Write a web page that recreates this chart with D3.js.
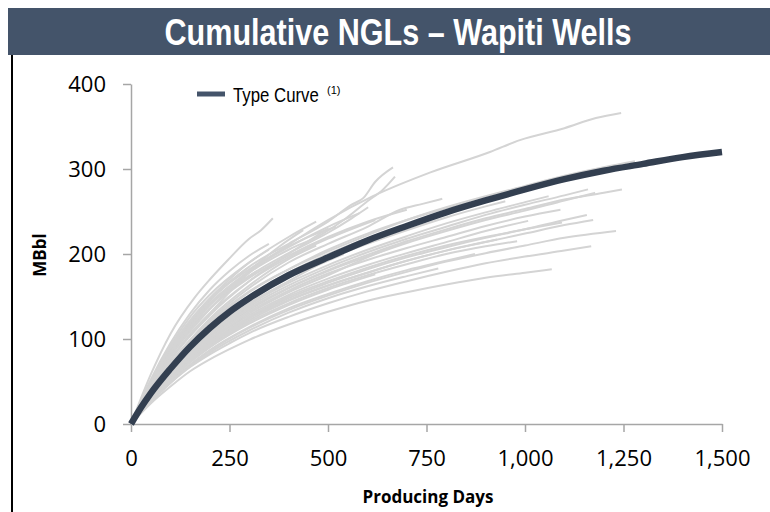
<!DOCTYPE html>
<html>
<head>
<meta charset="utf-8">
<script src="https://cdn.jsdelivr.net/npm/d3@7"></script>
<style>
  body { margin: 0; background: #fff; }
</style>
</head>
<body>
<div id="chart"></div>
<script>
// Chart data
const titleText = 'Cumulative NGLs \u2013 Wapiti Wells';
const yTicks = [0, 100, 200, 300, 400];
const xTicks = [0, 250, 500, 750, 1000, 1250, 1500];

// Type curve: [producing days, MBbl]
const typeCurve = [
  [0, 0], [25, 19], [50, 36], [100, 65], [150, 91], [200, 113], [250, 132], [300, 148],
  [400, 175], [500, 196], [600, 216], [700, 233], [800, 249], [900, 263], [1000, 276],
  [1100, 288], [1200, 298], [1300, 306], [1400, 314], [1500, 320]
];

// Individual wells: [producing days, MBbl]
const wells = [
  [[0, 0], [50, 58], [100, 106], [162, 149], [200, 170], [246, 193], [300, 218], [330, 228], [360, 242]],
  [[0, 0], [50, 48], [100, 86], [150, 118], [200, 145], [300, 185], [400, 212], [500, 238], [560, 258], [590, 266], [620, 285], [665, 302]],
  [[0, 0], [50, 46], [100, 82], [150, 112], [200, 140], [300, 178], [400, 205], [480, 222], [540, 240], [600, 262], [640, 276], [670, 291]],
  [[0, 0], [50, 45], [100, 80], [150, 110], [200, 136], [300, 174], [400, 201], [500, 225], [560, 242], [602, 255]],
  [[0, 0], [50, 42], [100, 76], [200, 130], [300, 178], [404, 212], [500, 240], [614, 268], [760, 296], [911, 320], [987, 334], [1100, 348], [1180, 360], [1244, 366]],
  [[0, 0], [100, 72], [200, 122], [300, 160], [400, 190], [500, 212], [600, 232], [683, 252], [740, 259], [790, 265]],
  [[0, 0], [100, 68], [200, 118], [300, 155], [400, 182], [500, 203], [600, 222], [700, 240], [800, 255], [900, 268], [1000, 280], [1100, 292], [1200, 302], [1279, 309]],
  [[0, 0], [100, 70], [200, 120], [300, 156], [400, 182], [500, 205], [600, 224], [700, 240], [800, 254], [860, 262]],
  [[0, 0], [100, 60], [200, 105], [300, 138], [400, 163], [500, 184], [600, 202], [700, 218], [800, 232], [900, 246], [1000, 258], [1100, 269], [1160, 276]],
  [[0, 0], [100, 58], [200, 102], [300, 134], [400, 160], [500, 181], [600, 199], [700, 215], [800, 229], [900, 242], [1000, 253], [1100, 264], [1200, 272], [1246, 276]],
  [[0, 0], [100, 59], [200, 103], [300, 136], [400, 160], [500, 180], [600, 197], [700, 213], [800, 227], [900, 240], [1000, 251], [1100, 263], [1178, 272]],
  [[0, 0], [100, 56], [200, 98], [300, 128], [400, 152], [500, 171], [600, 187], [700, 201], [800, 214], [900, 227], [1008, 239]],
  [[0, 0], [100, 55], [200, 95], [300, 125], [400, 148], [500, 166], [600, 182], [700, 196], [800, 208], [900, 219], [1000, 229], [1100, 240], [1157, 246]],
  [[0, 0], [100, 54], [200, 93], [300, 122], [400, 145], [500, 163], [600, 178], [700, 192], [800, 204], [900, 214], [1000, 224], [1100, 234], [1173, 240]],
  [[0, 0], [100, 56], [200, 96], [300, 126], [400, 150], [500, 168], [600, 184], [700, 198], [800, 210], [900, 220], [1000, 229], [1094, 237]],
  [[0, 0], [100, 55], [200, 94], [300, 124], [400, 146], [500, 163], [600, 178], [700, 192], [800, 204], [929, 217]],
  [[0, 0], [100, 50], [200, 86], [300, 113], [400, 134], [500, 151], [600, 166], [700, 179], [800, 191], [900, 201], [1000, 210], [1100, 219], [1231, 227]],
  [[0, 0], [50, 26], [100, 48], [150, 67], [200, 82], [250, 95], [300, 107], [400, 126], [500, 142], [600, 156], [700, 168], [800, 179], [900, 189], [1000, 197], [1100, 204], [1168, 209]],
  [[0, 0], [50, 24], [100, 44], [150, 62], [200, 76], [250, 88], [300, 99], [400, 117], [500, 132], [600, 145], [700, 155], [800, 164], [900, 172], [1000, 178], [1068, 182]],
  [[0, 0], [100, 50], [200, 87], [300, 114], [400, 136], [500, 153], [600, 168], [700, 181], [800, 192], [873, 200]],
  [[0, 0], [50, 45], [100, 80], [200, 135], [300, 180], [380, 210], [437, 228]],
  [[0, 0], [100, 62], [200, 108], [300, 142], [400, 168], [480, 188], [540, 200]],
  [[0, 0], [100, 56], [200, 98], [300, 130], [400, 155], [500, 175], [600, 196], [700, 215]],
  [[0, 0], [100, 66], [200, 114], [300, 150], [400, 178], [500, 200], [600, 218], [700, 232], [760, 240]],
  [[0, 0], [50, 50], [100, 88], [150, 118], [200, 145], [250, 167], [300, 185]],
  [[0, 0], [100, 75], [200, 128], [300, 168], [400, 200], [500, 230]],
  [[0, 0], [100, 64], [200, 110], [300, 145], [400, 172], [500, 194], [600, 212], [700, 228], [800, 243], [900, 256], [950, 262]],
  [[0, 0], [100, 52], [200, 90], [300, 118], [400, 140], [500, 158], [620, 176]],
  [[0, 0], [100, 61], [200, 106], [300, 140], [400, 166], [500, 187], [600, 205], [700, 221], [800, 236], [900, 249], [1000, 261], [1060, 268]],
  [[0, 0], [100, 53], [200, 91], [300, 120], [400, 142], [500, 160], [600, 175], [700, 188], [800, 200], [900, 209], [980, 215]],
  [[0, 0], [100, 70], [200, 124], [300, 163], [400, 194], [470, 210]],
  [[0, 0], [100, 57], [200, 100], [300, 132], [400, 157], [500, 177], [600, 193], [700, 207], [800, 220], [900, 233], [1000, 244], [1090, 252]],
  [[0, 0], [100, 49], [200, 84], [300, 110], [400, 131], [500, 148], [600, 162], [700, 174], [780, 183]],
  [[0, 0], [100, 63], [200, 112], [300, 148], [400, 176], [500, 199], [580, 215]],
  [[0, 0], [50, 52], [100, 95], [150, 130], [200, 158], [250, 180], [300, 198], [350, 212]],
  [[0, 0], [50, 50], [100, 92], [150, 126], [200, 152], [300, 190], [400, 220], [470, 238]],
  [[0, 0], [50, 47], [100, 88], [150, 120], [200, 146], [250, 166], [300, 182], [380, 204], [460, 222], [520, 232]],
  [[0, 0], [50, 48], [100, 90], [150, 122], [200, 148], [250, 170], [300, 190], [350, 205]],
  [[0, 0], [50, 44], [100, 84], [150, 116], [200, 142], [300, 180], [400, 208], [500, 232], [580, 248]],
  [[0, 0], [50, 43], [100, 80], [200, 136], [300, 172], [400, 198], [500, 220], [600, 238], [700, 252]],
  [[0, 0], [50, 46], [100, 84], [150, 114], [200, 140], [260, 162], [320, 180]],
  [[0, 0], [50, 40], [100, 76], [150, 106], [200, 130], [300, 168], [400, 196], [500, 218], [620, 240]]
];

const width = 770;
const height = 512;
const margin = { top: 84, right: 48, bottom: 88, left: 131 };
const narrowFont = '"Liberation Sans Narrow", "Liberation Sans", Arial, sans-serif';

const svg = d3.select('#chart').append('svg')
  .attr('width', width)
  .attr('height', height);

const x = d3.scaleLinear()
  .domain([0, 1500])
  .range([margin.left, width - margin.right]);

const y = d3.scaleLinear()
  .domain([0, 400])
  .range([height - margin.bottom, margin.top]);

// Title bar
svg.append('rect')
  .attr('x', 8).attr('y', 8)
  .attr('width', width - 8).attr('height', 47)
  .attr('fill', '#44546a');

svg.append('text')
  .attr('x', 398).attr('y', 45)
  .attr('text-anchor', 'middle')
  .attr('fill', '#fff')
  .attr('font-family', narrowFont)
  .attr('font-weight', 'bold')
  .attr('font-size', 36)
  .attr('textLength', 467)
  .attr('lengthAdjust', 'spacingAndGlyphs')
  .text(titleText);

// Left frame line
svg.append('line')
  .attr('x1', 12).attr('x2', 12)
  .attr('y1', 55).attr('y2', height)
  .attr('stroke', '#000')
  .attr('stroke-width', 2);

// Axes
const yAxis = svg.append('g')
  .attr('transform', `translate(${margin.left},0)`)
  .call(d3.axisLeft(y).tickValues(yTicks).tickSize(8).tickSizeOuter(0).tickPadding(17).tickFormat(d3.format(',')));

const xAxis = svg.append('g')
  .attr('transform', `translate(0,${height - margin.bottom})`)
  .call(d3.axisBottom(x).tickValues(xTicks).tickSize(8).tickSizeOuter(0).tickPadding(18).tickFormat(d3.format(',')));

[xAxis, yAxis].forEach(g => {
  g.selectAll('path, line').attr('stroke', '#a6a6a6').attr('stroke-width', 1.5);
  g.selectAll('text')
    .attr('font-family', '"Open Sans", sans-serif')
    .attr('font-size', 22)
    .attr('fill', '#000');
});

// Well lines
const line = d3.line()
  .x(d => x(d[0]))
  .y(d => y(d[1]))
  .curve(d3.curveMonotoneX);

svg.append('g')
  .selectAll('path')
  .data(wells)
  .join('path')
  .attr('fill', 'none')
  .attr('stroke', '#d4d4d4')
  .attr('stroke-width', 2)
  .attr('d', line);

// Type curve on top
svg.append('path')
  .datum(typeCurve)
  .attr('fill', 'none')
  .attr('stroke', '#333f50')
  .attr('stroke-width', 6.5)
  .attr('d', line);

// Legend (text squeezed horizontally to look like a narrow font)
svg.append('line')
  .attr('x1', 197).attr('x2', 225)
  .attr('y1', 94).attr('y2', 94)
  .attr('stroke', '#44546a')
  .attr('stroke-width', 5);

svg.append('text')
  .attr('transform', 'translate(233,102) scale(0.84,1)')
  .attr('font-family', narrowFont)
  .attr('font-size', 20)
  .attr('fill', '#000')
  .text('Type Curve');

svg.append('text')
  .attr('x', 327).attr('y', 94)
  .attr('font-family', narrowFont)
  .attr('font-size', 11)
  .attr('fill', '#000')
  .text('(1)');

// Axis titles
svg.append('text')
  .attr('x', 428).attr('y', 503)
  .attr('text-anchor', 'middle')
  .attr('font-family', '"Open Sans", sans-serif')
  .attr('font-weight', 'bold')
  .attr('font-size', 17)
  .text('Producing Days');

svg.append('text')
  .attr('transform', 'translate(46,255) rotate(-90)')
  .attr('text-anchor', 'middle')
  .attr('font-family', '"Open Sans", sans-serif')
  .attr('font-weight', 'bold')
  .attr('font-size', 17)
  .text('MBbl');
</script>
</body>
</html>
